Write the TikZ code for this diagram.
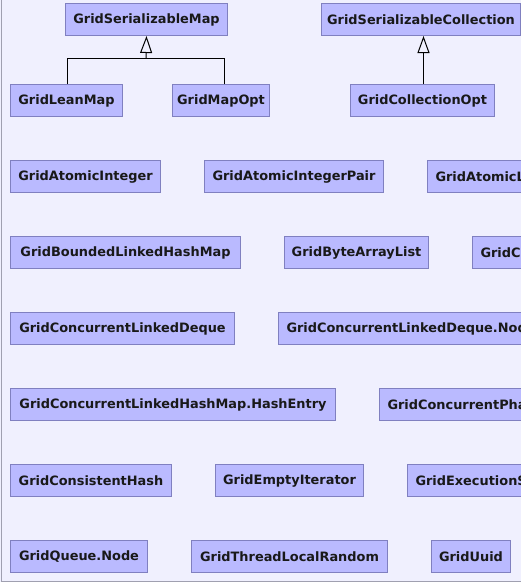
\documentclass[tikz,border=0pt]{standalone}
\usepackage{fontspec}
\setmainfont{DejaVu Sans}
\usetikzlibrary{arrows.meta}
\definecolor{bgcol}{RGB}{240,240,254}
\definecolor{boxfill}{RGB}{186,186,255}
\definecolor{boxline}{RGB}{128,128,192}
\definecolor{framecol}{RGB}{160,160,176}
\tikzset{
  cls/.style={draw=boxline, fill=boxfill, line width=1pt, minimum height=32pt, inner sep=0pt,
    anchor=north west, font=\bfseries\fontsize{12.9}{15}\selectfont, text=black!90},
  cut/.style={cls, inner xsep=8pt, text width=320pt, align=left},
  inh/.style={line width=1pt, -{Triangle[open,length=17pt,width=12pt,line width=1pt]}}
}
\begin{document}
\begin{tikzpicture}[x=1pt,y=-1pt]
\useasboundingbox (0,0) rectangle (521,582);
\clip (0,0) rectangle (521,582);
\fill[bgcol] (0,0) rectangle (521,582);
\draw[framecol, line width=1pt] (1,0) -- (1,581) -- (521,581);
% top rows
\node[cls, minimum width=162pt] (sm) at (65,3) {GridSerializableMap};
\node[cls, minimum width=199pt] (sc) at (321,3) {GridSerializableCollection};
\node[cls, minimum width=112pt] (lm) at (10,84) {GridLeanMap};
\node[cls, minimum width=97pt] (mo) at (172,84) {GridMapOpt};
\node[cls, minimum width=144pt] (co) at (350,84) {GridCollectionOpt};
% row 3
\node[cls, minimum width=150pt] (ai) at (10,160) {GridAtomicInteger};
\node[cls, minimum width=179pt] (aip) at (204,160) {GridAtomicIntegerPair};
\node[cut] (al) at (427,160) {GridAtomicL};
% row 4
\node[cls, minimum width=230pt] (bl) at (10,236) {GridBoundedLinkedHashMap};
\node[cls, minimum width=144pt] (ba) at (284,236) {GridByteArrayList};
\node[cut] (gc) at (472,236) {GridC};
% row 5
\node[cls, minimum width=224pt] (cld) at (10,312) {GridConcurrentLinkedDeque};
\node[cut] (cldn) at (278,312) {GridConcurrentLinkedDeque.Node};
% row 6
\node[cls, minimum width=325pt] (chm) at (10,388) {GridConcurrentLinkedHashMap.HashEntry};
\node[cut] (cp) at (379,388) {GridConcurrentPha};
% row 7
\node[cls, minimum width=161pt] (ch) at (10,464) {GridConsistentHash};
\node[cls, minimum width=148pt] (ei) at (215,464) {GridEmptyIterator};
\node[cut] (es) at (407,464) {GridExecutionS};
% row 8
\node[cls, minimum width=137pt] (qn) at (10,540) {GridQueue.Node};
\node[cls, minimum width=196pt] (tlr) at (191,540) {GridThreadLocalRandom};
\node[cls, minimum width=79pt] (uu) at (431,540) {GridUuid};
% inheritance
\coordinate (j) at (146,58);
\draw[line width=1pt] ([xshift=1pt]lm.north) |- (j);
\draw[line width=1pt] ([xshift=3.5pt]mo.north) |- (j);
\draw[inh] (j) -- (sm.south);
\draw[inh] ([xshift=1pt]co.north) -- ([xshift=1pt]co.north |- sc.south);
\end{tikzpicture}
\end{document}
